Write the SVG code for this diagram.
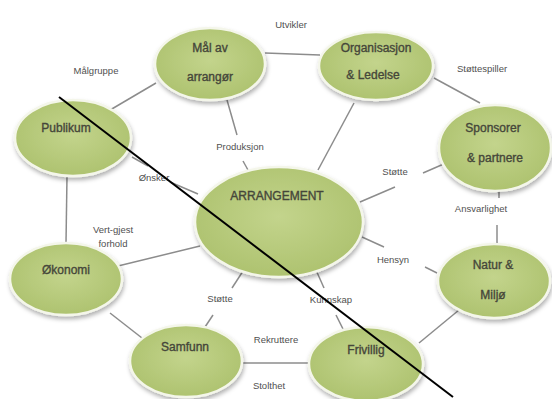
<svg xmlns="http://www.w3.org/2000/svg" width="552" height="399" viewBox="0 0 552 399">
<defs>
<radialGradient id="g" cx="50%" cy="45%" r="60%">
<stop offset="0" stop-color="#c3d48c"/>
<stop offset="1" stop-color="#acc16d"/>
</radialGradient>
<filter id="sh" x="-20%" y="-20%" width="140%" height="150%">
<feDropShadow dx="1" dy="3" stdDeviation="2" flood-color="#000" flood-opacity="0.3"/>
</filter>
</defs>
<style>
.n ellipse{fill:url(#g);stroke:#f4f6ea;stroke-width:2.5;filter:url(#sh)}
.n text{font-family:"Liberation Sans",Arial,sans-serif;font-size:12px;fill:#45463a;stroke:#45463a;stroke-width:0.35;text-anchor:middle}
.c line{stroke:#8c8c8c;stroke-width:1.5}
.l{font-family:"Liberation Sans",Arial,sans-serif;font-size:9.5px;fill:#505050;text-anchor:middle}
</style>
<rect width="552" height="399" fill="#fff"/>
<g id="connectors" class="c">
<line x1="156" y1="83" x2="105" y2="113"/>
<line x1="265" y1="53" x2="320" y2="55"/>
<line x1="227" y1="100" x2="237" y2="135"/>
<line x1="243" y1="161" x2="248" y2="170"/>
<line x1="354" y1="103" x2="318" y2="170"/>
<line x1="434" y1="78" x2="480" y2="103"/>
<line x1="446" y1="163" x2="423" y2="173"/>
<line x1="395" y1="187" x2="360" y2="202"/>
<line x1="499" y1="188" x2="499" y2="198"/>
<line x1="497" y1="225" x2="497" y2="245"/>
<line x1="362" y1="237" x2="384" y2="247"/>
<line x1="425" y1="267" x2="437" y2="273"/>
<line x1="459" y1="310" x2="419" y2="343"/>
<line x1="316" y1="270" x2="324" y2="288"/>
<line x1="336" y1="315" x2="343" y2="329"/>
<line x1="242" y1="363" x2="309" y2="363"/>
<line x1="205" y1="327" x2="213" y2="315"/>
<line x1="232" y1="288" x2="245" y2="268"/>
<line x1="110" y1="313" x2="142" y2="338"/>
<line x1="118" y1="266" x2="200" y2="246"/>
<line x1="67" y1="176" x2="66" y2="243"/>
<line x1="132" y1="157" x2="148" y2="166"/>
<line x1="170" y1="182" x2="198" y2="194"/>
</g>
<g id="labels">
<text class="l" x="96" y="74">Målgruppe</text>
<text class="l" x="291" y="28">Utvikler</text>
<text class="l" x="482" y="72">Støttespiller</text>
<text class="l" x="240" y="150">Produksjon</text>
<text class="l" x="154" y="181">Ønsker</text>
<text class="l" x="395" y="175">Støtte</text>
<text class="l" x="481" y="212">Ansvarlighet</text>
<text class="l" x="393" y="263">Hensyn</text>
<text class="l" x="113" y="233" text-anchor="start">Vert-gjest</text>
<text class="l" x="113" y="247" text-anchor="start">forhold</text>
<text class="l" x="220" y="302">Støtte</text>
<text class="l" x="331" y="303">Kunnskap</text>
<text class="l" x="276" y="343">Rekruttere</text>
<text class="l" x="269" y="389">Stolthet</text>
</g>
<g id="mal" class="n"><ellipse cx="210" cy="64" rx="55" ry="36"/><text x="210" y="52">Mål av</text><text x="210" y="81">arrangør</text></g>
<g id="org" class="n"><ellipse cx="376" cy="66" rx="57" ry="34"/><text x="376" y="52">Organisasjon</text><text x="373" y="79">&amp; Ledelse</text></g>
<g id="sponsor" class="n"><ellipse cx="495" cy="148" rx="56" ry="43"/><text x="493" y="132">Sponsorer</text><text x="495" y="162">&amp;  partnere</text></g>
<g id="publikum" class="n"><ellipse cx="73" cy="138" rx="58" ry="38"/><text x="66" y="132">Publikum</text></g>
<g id="arrangement" class="n"><ellipse cx="279" cy="222" rx="84" ry="55"/><text x="277" y="200" font-size="13">ARRANGEMENT</text></g>
<g id="okonomi" class="n"><ellipse cx="66" cy="279" rx="56" ry="36"/><text x="66" y="274">Økonomi</text></g>
<g id="samfunn" class="n"><ellipse cx="186" cy="361" rx="56" ry="36"/><text x="185" y="351">Samfunn</text></g>
<g id="frivillig" class="n"><ellipse cx="366" cy="364" rx="57" ry="37"/><text x="366" y="354">Frivillig</text></g>
<g id="natur" class="n"><ellipse cx="494" cy="281" rx="56" ry="37"/><text x="493" y="269">Natur &amp;</text><text x="493" y="299">Miljø</text></g>
<line id="diagonal" x1="59" y1="97" x2="453" y2="397" stroke="#000" stroke-width="2"/>
</svg>
